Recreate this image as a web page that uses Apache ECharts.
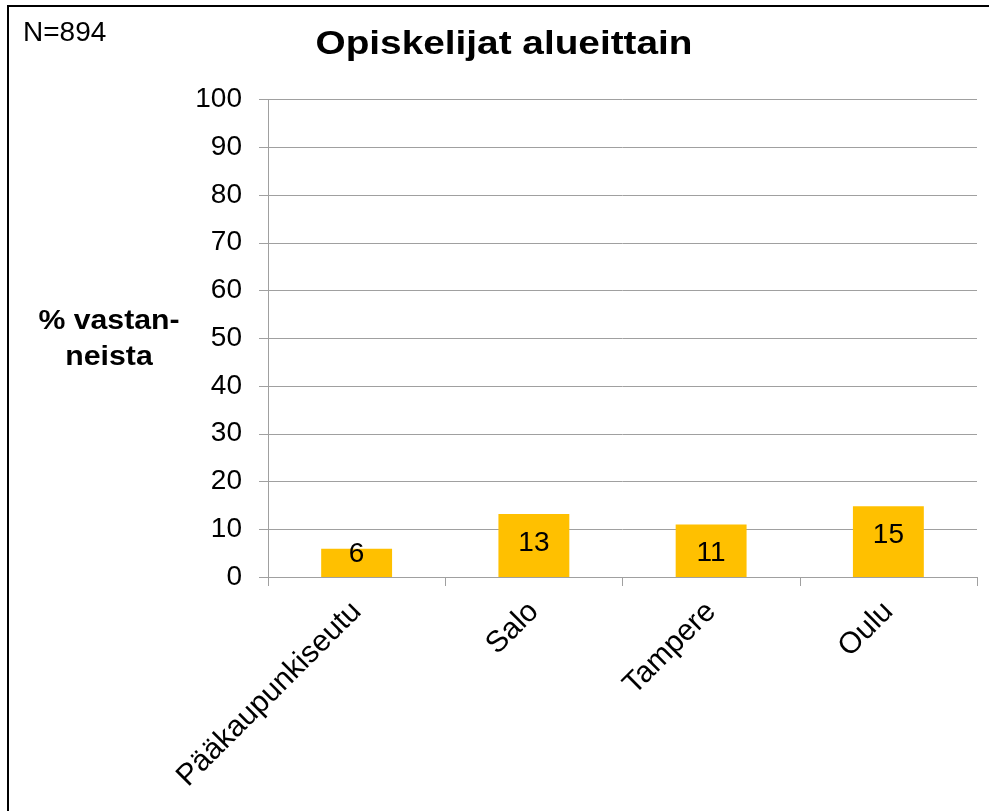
<!DOCTYPE html>
<html>
<head>
<meta charset="utf-8">
<script src="https://cdn.jsdelivr.net/npm/echarts@6/dist/echarts.min.js"></script>
<style>
html,body{margin:0;padding:0;background:#fff;}
#chart{width:989px;height:811px;}
</style>
</head>
<body>
<div id="chart"></div>
<script>
var categories = ['Pääkaupunkiseutu', 'Salo', 'Tampere', 'Oulu'];
var values = [5.9, 13.2, 11.0, 14.8];
var yTicks = [0, 10, 20, 30, 40, 50, 60, 70, 80, 90, 100];
var titleText = 'Opiskelijat alueittain';
var noteText = 'N=894';
var yName = '% vastan-\nneista';

var FONT = '"Liberation Sans", Arial, sans-serif';
var chart = echarts.init(document.getElementById('chart'));

var barData = values.map(function (v) {
  if (v < 8) {
    return { value: v, label: { position: 'insideBottom', distance: 9 } };
  }
  return { value: v };
});

chart.setOption({
  animation: false,
  backgroundColor: '#ffffff',
  grid: { left: 268, right: 12, top: 99.5, bottom: 234, containLabel: false },
  xAxis: {
    type: 'category',
    data: categories,
    axisLine: { lineStyle: { color: '#a0a0a0', width: 1 } },
    axisTick: { show: true, length: 9, lineStyle: { color: '#a0a0a0' } },
    axisLabel: { rotate: 45, margin: 30, fontSize: 30, color: '#000', fontFamily: FONT, interval: 0 }
  },
  yAxis: {
    type: 'value',
    min: yTicks[0],
    max: yTicks[yTicks.length - 1],
    interval: 10,
    axisLine: { show: true, lineStyle: { color: '#a0a0a0', width: 1 } },
    axisTick: { show: true, length: 9, lineStyle: { color: '#a0a0a0' } },
    splitLine: { lineStyle: { color: '#a0a0a0', width: 1 } },
    axisLabel: { margin: 26, fontSize: 28, color: '#000', fontFamily: FONT }
  },
  series: [{
    type: 'bar',
    data: barData,
    barWidth: '40%',
    itemStyle: { color: '#FFC000' },
    label: {
      show: true,
      position: 'insideTop',
      distance: 15,
      fontSize: 28,
      color: '#000',
      fontFamily: FONT,
      formatter: function (p) { return Math.round(p.value); }
    }
  }],
  graphic: [
    {
      type: 'rect', silent: true,
      shape: { x: 8, y: 6, width: 1000, height: 900 },
      style: { fill: 'none', stroke: '#000', lineWidth: 2 }
    },
    {
      type: 'text', x: 504, y: 45, scaleX: 1.14,
      style: { text: titleText, font: 'bold 34px ' + FONT, fill: '#000', textAlign: 'center', textVerticalAlign: 'middle' }
    },
    {
      type: 'text', x: 23, y: 33,
      style: { text: noteText, font: '28px ' + FONT, fill: '#000', textAlign: 'left', textVerticalAlign: 'middle' }
    },
    {
      type: 'text', x: 109, y: 340, scaleX: 1.12,
      style: { text: yName, font: 'bold 27px ' + FONT, lineHeight: 36, fill: '#000', textAlign: 'center', textVerticalAlign: 'middle' }
    }
  ]
});
</script>
</body>
</html>
